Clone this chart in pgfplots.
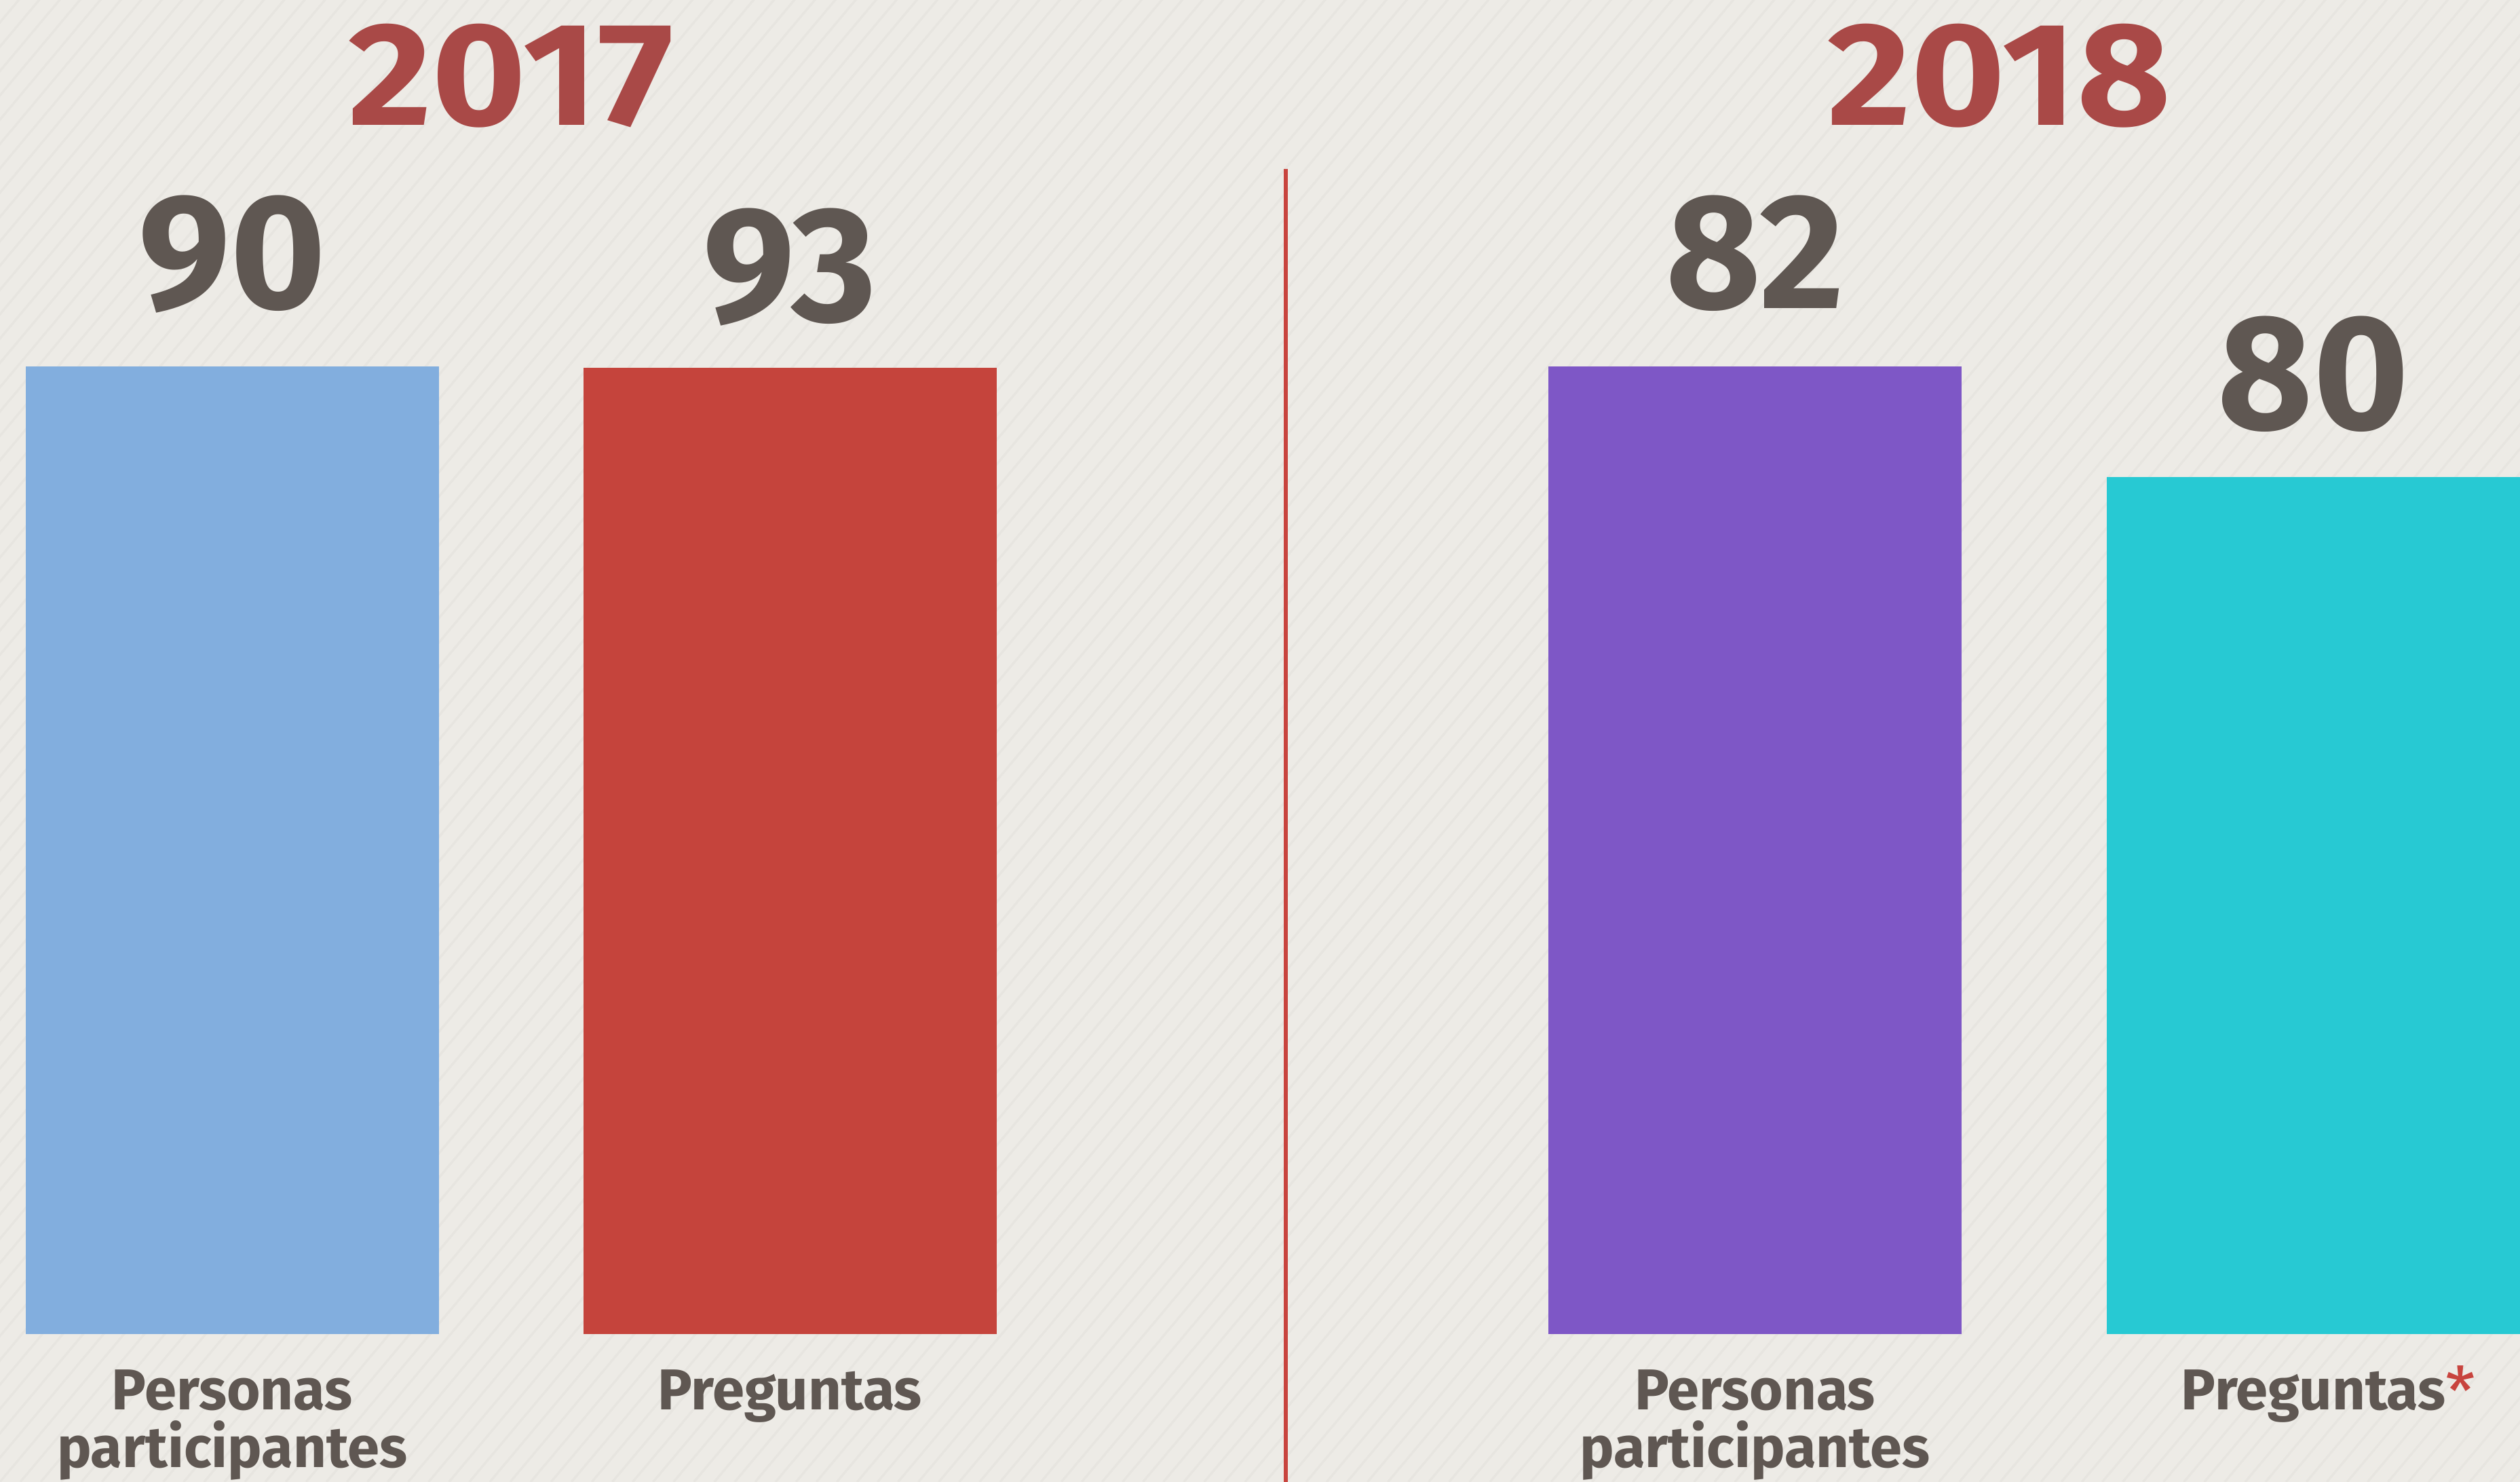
\documentclass[border=0pt]{standalone}
\usepackage{pgfplots}
\pgfplotsset{compat=1.18}
\usepackage{pgfplotstable}
\usepackage{fontspec}
\setmainfont{Fira Sans}
\newfontfamily\yearfont[FakeStretch=1.1]{Fira Sans}
\definecolor{bg}{HTML}{EDEBE6}
\definecolor{stripe}{HTML}{E7E5E0}
\definecolor{cblue}{HTML}{82AEDE}
\definecolor{cred}{HTML}{C5443C}
\definecolor{cpurple}{HTML}{7E57C6}
\definecolor{ccyan}{HTML}{27C9D3}
\definecolor{yearc}{HTML}{A94947}
\definecolor{txt}{HTML}{5F5752}
\definecolor{linec}{HTML}{C8443E}
\tikzset{
  lab/.style={font=\fontsize{10.2}{11}\selectfont\bfseries, text=txt, anchor=base, inner sep=0pt},
  yr/.style={font=\yearfont\fontsize{26}{28}\selectfont\bfseries, text=yearc, anchor=base, inner sep=0pt},
}

% x = bar centre, h = drawn bar height (as in the picture), lab = value shown
\pgfplotstableread{
x      h    lab
144.5  602  90
}\tA
\pgfplotstableread{
x      h    lab
491.5  601  93
}\tB
\pgfplotstableread{
x      h    lab
1092   602  82
}\tC
\pgfplotstableread{
x      h    lab
1439.5 533  80
}\tD

\begin{document}
\begin{tikzpicture}
\fill[bg] (0,0) rectangle (15.68cm,9.22cm);
\begin{scope}
\clip (0,0) rectangle (15.68cm,9.22cm);
\foreach \i in {-90,...,130}{
  \draw[stripe, line width=0.4pt] (\i*0.127cm,0) -- ++(50:14cm);
}
\end{scope}
\begin{axis}[
  at={(0,0.92cm)}, anchor=south west,
  width=15.68cm, height=8.30cm, scale only axis,
  xmin=0, xmax=1568, ymin=0, ymax=830,
  hide axis, clip=false,
  ybar, bar width=257, bar shift=0pt,
  point meta=explicit symbolic,
  nodes near coords,
  every node near coord/.style={font=\fontsize{29}{30}\selectfont\bfseries, text=txt, anchor=base, inner sep=0pt},
]
\addplot[fill=cblue, draw=none, every node near coord/.append style={yshift=0.36cm}] table[x=x, y=h, meta=lab] {\tA};
\addplot[fill=cred, draw=none, every node near coord/.append style={yshift=0.29cm}] table[x=x, y=h, meta=lab] {\tB};
\addplot[fill=cpurple, draw=none, every node near coord/.append style={yshift=0.36cm}] table[x=x, y=h, meta=lab] {\tC};
\addplot[fill=ccyan, draw=none, every node near coord/.append style={yshift=0.30cm}] table[x=x, y=h, meta=lab] {\tD};

\draw[linec, line width=0.75pt] (axis cs:800,725) -- (axis cs:800,-92);

\node[yr] at (axis cs:318,752) {2017};
\node[yr] at (axis cs:1244,752) {2018};

\node[lab] at (axis cs:144.5,-47) {Personas};
\node[lab] at (axis cs:144.5,-83) {participantes};
\node[lab] at (axis cs:491.5,-47) {Preguntas};
\node[lab] at (axis cs:1092,-47) {Personas};
\node[lab] at (axis cs:1092,-83) {participantes};
\node[lab] at (axis cs:1439.5,-47) {Preguntas\rlap{\raisebox{-0.2ex}{\fontsize{12}{12}\selectfont\mdseries\color{linec}*}}};
\end{axis}
\pgfresetboundingbox
\path (0,0) rectangle (15.68cm,9.22cm);
\end{tikzpicture}
\end{document}
